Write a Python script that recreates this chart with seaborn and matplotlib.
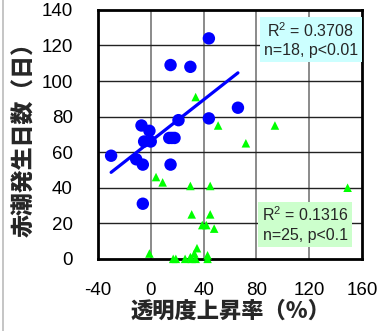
import matplotlib
matplotlib.use("Agg")
import matplotlib.pyplot as plt
import seaborn as sns
import numpy as np
import pandas as pd
from matplotlib.lines import Line2D

# Blue series (circles) with regression
blue_x = [-30, -11, -6, -6, -7, -1, -5, 0, 14, 18, 15, 15, 30, 21, 44, 44, 66, 16]
blue_y = [58, 56, 53, 31, 75, 72, 66, 66, 68, 68, 53, 109, 108, 78, 124, 79, 85, 68]

# Green series (triangles)
green_x = [-1, 4, 9, 17, 19, 26, 31, 34, 33, 35, 43, 43, 30, 45, 31, 45, 39, 42, 48,
           34, 51, 72, 94, 149, 30]
green_y = [3, 46, 43, 0, 0, 0, 0, 0, 3, 6, 0, 2, 41, 41, 25, 25, 19, 19, 17,
           91, 75, 65, 75, 40, 1]

x_ticks = [-40, 0, 40, 80, 120, 160]
x_tick_labels = ["-40", "0", "40", "80", "120", "160"]
y_ticks = [0, 20, 40, 60, 80, 100, 120, 140]

blue_stats = "R$^2$ = 0.3708\nn=18, p<0.01"
green_stats = "R$^2$ = 0.1316\nn=25, p<0.1"
x_label = "透明度上昇率（%）"
y_label = "赤潮発生日数（日）"

sns.set_theme(style="white")
plt.rcParams["font.family"] = ["Liberation Sans", "Noto Sans CJK JP", "DejaVu Sans"]
plt.rcParams["mathtext.default"] = "regular"
plt.rcParams["xtick.major.pad"] = 17
plt.rcParams["ytick.major.pad"] = 18
plt.rcParams["xtick.major.size"] = 0
plt.rcParams["ytick.major.size"] = 0

df_blue = pd.DataFrame({"x": blue_x, "y": blue_y})
df_green = pd.DataFrame({"x": green_x, "y": green_y})

fig = plt.figure(figsize=(3.78, 3.31), dpi=100)
ax = fig.add_axes([0.259, 0.218, 0.699, 0.752])

ax.set_xlim(-40, 160)
ax.set_ylim(0, 140)
ax.set_xticks(x_ticks)
ax.set_xticklabels(x_tick_labels)
ax.set_yticks(y_ticks)

# grid
for xv in x_ticks[1:-1]:
    ax.axvline(xv, color="#777777", lw=1.2, zorder=0)
for yv in y_ticks[1:-1]:
    ax.axhline(yv, color="#222222", lw=1.0, zorder=0)

sns.scatterplot(data=df_green, x="x", y="y", ax=ax, marker="^", s=38,
                color="#00ff00", edgecolor="none", zorder=3, clip_on=False)
sns.scatterplot(data=df_blue, x="x", y="y", ax=ax, marker="o", s=80,
                color="#0000ff", edgecolor="none", zorder=4)
sns.regplot(data=df_blue, x="x", y="y", ax=ax, scatter=False, ci=None,
            color="#0000ff", line_kws={"lw": 2.3, "zorder": 5})

ax.set_xlabel(x_label, fontsize=16, fontweight="black",
              family=["Noto Sans CJK JP", "DejaVu Sans"], labelpad=0)
ax.set_ylabel(y_label, fontsize=16.5, fontweight="black",
              family=["Noto Sans CJK JP", "DejaVu Sans"], labelpad=4)

ax.tick_params(axis="both", which="both", length=0, labelsize=13.5, colors="black")
ax.tick_params(axis="x", which="major", pad=17)
ax.tick_params(axis="y", which="major", pad=18)

for sp in ax.spines.values():
    sp.set_visible(True)
    sp.set_color("black")
    sp.set_linewidth(2)

ax.text(0.805, 0.88, blue_stats, transform=ax.transAxes, ha="center", va="center",
        fontsize=11.5, linespacing=1.3, zorder=6,
        bbox=dict(boxstyle="square,pad=0.25", facecolor="#ccffff", edgecolor="none"))
ax.text(0.784, 0.139, green_stats, transform=ax.transAxes, ha="center", va="center",
        fontsize=11.5, linespacing=1.3, zorder=6,
        bbox=dict(boxstyle="square,pad=0.25", facecolor="#ccffcc", edgecolor="none"))

# faint border line at the far left edge of the picture
fig.add_artist(Line2D([0.007, 0.007], [0.0, 1.0], transform=fig.transFigure,
                      color="#bbbbbb", lw=1.2))

fig.savefig("out.png", dpi=100)
